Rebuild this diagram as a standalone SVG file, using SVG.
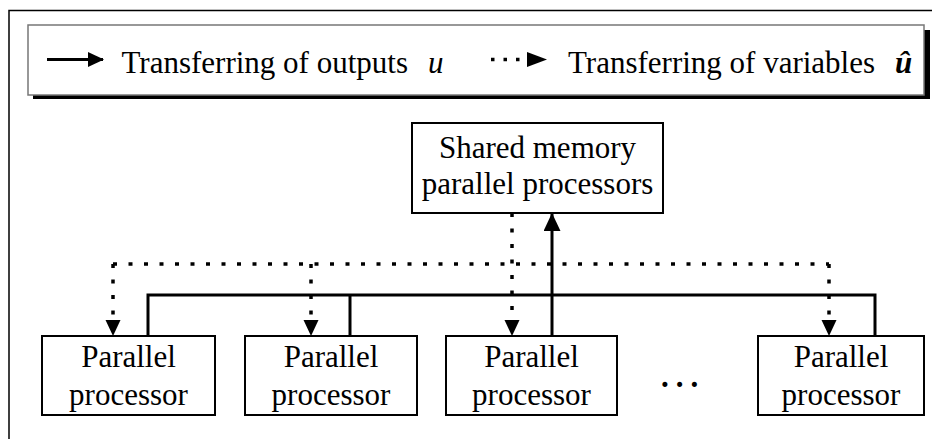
<svg xmlns="http://www.w3.org/2000/svg" width="932" height="439" viewBox="0 0 932 439">
<style>
  .t { font-family: "Liberation Serif", "Times New Roman", serif; font-size: 31px; fill: #000; }
  .it { font-style: italic; }
  .box { fill: #fff; stroke: #000; stroke-width: 2; }
  .solid { fill: none; stroke: #000; stroke-width: 3; }
  .dot { fill: none; stroke: #000; stroke-width: 3.5; stroke-dasharray: 4 11.5; }
</style>
<defs>
  <marker id="ah" markerUnits="userSpaceOnUse" markerWidth="20" markerHeight="20" refX="17" refY="8.5" orient="auto">
    <path d="M0,0 L18,8.5 L0,17 Z" fill="#000"/>
  </marker>
  <marker id="ahd" markerUnits="userSpaceOnUse" markerWidth="18" markerHeight="18" refX="15" refY="7.5" orient="auto">
    <path d="M0,0 L16,7.5 L0,15 Z" fill="#000"/>
  </marker>
</defs>
<rect width="932" height="439" fill="#fff"/>
<rect x="9" y="10.5" width="940" height="450" fill="none" stroke="#000" stroke-width="1.5"/>

<g id="legend">
  <rect x="33" y="30" width="897" height="69" fill="#000"/>
  <rect x="28" y="25" width="896" height="70" fill="#fff" stroke="#777" stroke-width="1.5"/>
  <line x1="47" y1="59.5" x2="103" y2="59.5" stroke="#000" stroke-width="3" marker-end="url(#ahd)"/>
  <text class="t" x="121.5" y="73">Transferring of outputs</text>
  <text class="t it" x="428" y="73">u</text>
  <line x1="491" y1="59.5" x2="522" y2="59.5" stroke="#000" stroke-width="3.5" stroke-dasharray="3.5 9"/>
  <path d="M527,52 L547,59.5 L527,67 Z" fill="#000"/>
  <text class="t" x="568" y="73">Transferring of variables</text>
  <text class="t it" x="895" y="73" font-weight="bold">û</text>
</g>

<g id="connectors">
  <line class="dot" x1="113" y1="264" x2="829" y2="264"/>
  <path class="dot" d="M113,264 L113,335" marker-end="url(#ahd)"/>
  <path class="dot" d="M311,264 L311,335" marker-end="url(#ahd)"/>
  <path class="dot" d="M829,264 L829,335" marker-end="url(#ahd)"/>
  <path class="dot" d="M512,213 L512,335" marker-end="url(#ahd)"/>
  <polyline class="solid" points="148,336 148,295 875,295 875,336"/>
  <line class="solid" x1="350" y1="295" x2="350" y2="336"/>
  <line class="solid" x1="552" y1="336" x2="552" y2="214" marker-end="url(#ah)"/>
</g>

<g id="shared">
  <rect class="box" x="412" y="123" width="251" height="90"/>
  <text class="t" x="537.5" y="158" text-anchor="middle">Shared memory</text>
  <text class="t" x="537.5" y="194" text-anchor="middle">parallel processors</text>
</g>
<g id="p1">
  <rect class="box" x="42" y="336" width="173" height="79"/>
  <text class="t" x="128.5" y="367" text-anchor="middle">Parallel</text>
  <text class="t" x="128.5" y="405" text-anchor="middle">processor</text>
</g>
<g id="p2">
  <rect class="box" x="245" y="336" width="172" height="79"/>
  <text class="t" x="331" y="367" text-anchor="middle">Parallel</text>
  <text class="t" x="331" y="405" text-anchor="middle">processor</text>
</g>
<g id="p3">
  <rect class="box" x="446" y="336" width="171" height="79"/>
  <text class="t" x="531.5" y="367" text-anchor="middle">Parallel</text>
  <text class="t" x="531.5" y="405" text-anchor="middle">processor</text>
</g>
<g id="ellipsis">
  <text class="t" x="683" y="387" text-anchor="middle" font-weight="bold" letter-spacing="7">...</text>
</g>
<g id="p4">
  <rect class="box" x="758" y="336" width="166" height="79"/>
  <text class="t" x="841" y="367" text-anchor="middle">Parallel</text>
  <text class="t" x="841" y="405" text-anchor="middle">processor</text>
</g>
</svg>
